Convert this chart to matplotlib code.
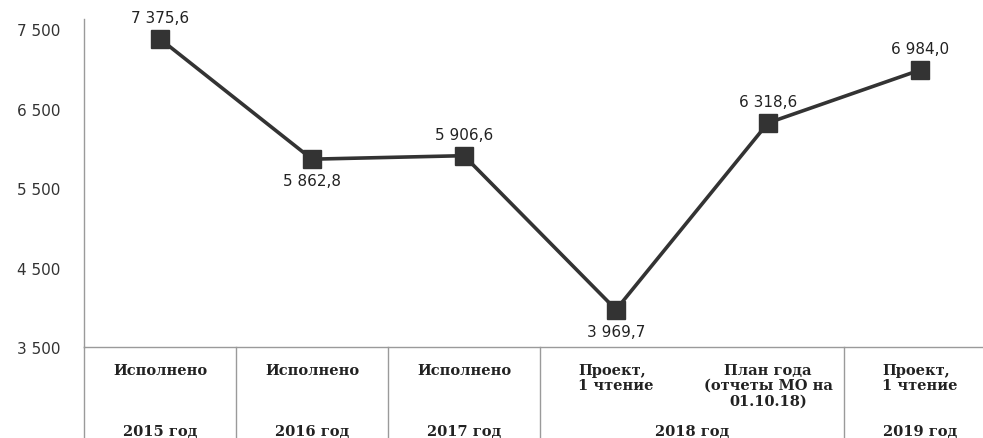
import matplotlib
matplotlib.use('Agg')
import matplotlib.pyplot as plt

# --- Data ---
sub_labels = ["Исполнено", "Исполнено", "Исполнено", "Проект,\n1 чтение",
              "План года\n(отчеты МО на\n01.10.18)", "Проект,\n1 чтение"]
sub_align = ['center', 'center', 'center', 'left', 'center', 'left']
year_labels = ["2015 год", "2016 год", "2017 год", "2018 год", "2019 год"]
year_spans = [(0, 0), (1, 1), (2, 2), (3, 4), (5, 5)]
values = [7375.6, 5862.8, 5906.6, 3969.7, 6318.6, 6984.0]
label_above = [True, False, True, False, True, True]
y_ticks = [3500, 4500, 5500, 6500, 7500]

LINE_COLOR = '#333333'
GRID_COLOR = '#9a9a9a'


def fmt_num(v, decimals=1):
    s = f"{v:,.{decimals}f}"
    return s.replace(',', ' ').replace('.', ',')


W, H = 983, 439
fig = plt.figure(figsize=(W / 100, H / 100), dpi=100)
ax_left, ax_right = 84, 84 + 912
ax_top, ax_bottom = 20, 348
ax = fig.add_axes([ax_left / W, 1 - ax_bottom / H,
                   (ax_right - ax_left) / W, (ax_bottom - ax_top) / H])

x = list(range(len(values)))
ax.plot(x, values, color=LINE_COLOR, lw=2.6, marker='s', markersize=12.5,
        markerfacecolor=LINE_COLOR, markeredgecolor=LINE_COLOR, zorder=3)

for xi, v, up in zip(x, values, label_above):
    ax.annotate(fmt_num(v), (xi, v), xytext=(0, 10 if up else -10),
                textcoords='offset points', ha='center',
                va='bottom' if up else 'top', fontsize=11, color='#222222',
                family='DejaVu Sans')

ax.set_xlim(-0.5, 5.5)
ax.set_ylim(3500, 7626)
ax.set_yticks(y_ticks)
ax.set_yticklabels([fmt_num(t, 0) for t in y_ticks], fontsize=11, color='#333333')
ax.tick_params(axis='y', length=0, pad=17)
ax.set_xticks([])

for side in ['top', 'right']:
    ax.spines[side].set_visible(False)
ax.spines['left'].set_color(GRID_COLOR)
ax.spines['left'].set_linewidth(1.0)
ax.spines['bottom'].set_color(GRID_COLOR)
ax.spines['bottom'].set_linewidth(1.0)

# --- Category table below the axis ---
trans = ax.get_xaxis_transform()
bottom_y = -(H - ax_bottom) / (ax_bottom - ax_top)
sep_positions = [-0.5, 0.5, 1.5, 2.5, 4.5, 5.5]
for sx in sep_positions:
    ax.plot([sx, sx], [0, bottom_y], transform=trans, color=GRID_COLOR,
            lw=1.0, clip_on=False)

px = 1 / (ax_bottom - ax_top)
for xi, lab, al in zip(x, sub_labels, sub_align):
    ax.text(xi, -(364 - ax_bottom) * px, lab, transform=trans, ha='center',
            va='top', fontsize=10.5, family='DejaVu Serif', fontweight='bold',
            color='#222222', linespacing=1.1, multialignment=al)

for (a, b), lab in zip(year_spans, year_labels):
    ax.text((a + b) / 2, -(425 - ax_bottom) * px, lab, transform=trans,
            ha='center', va='top', fontsize=10.5, family='DejaVu Serif',
            fontweight='bold', color='#222222')

fig.savefig('out.png', dpi=100)
